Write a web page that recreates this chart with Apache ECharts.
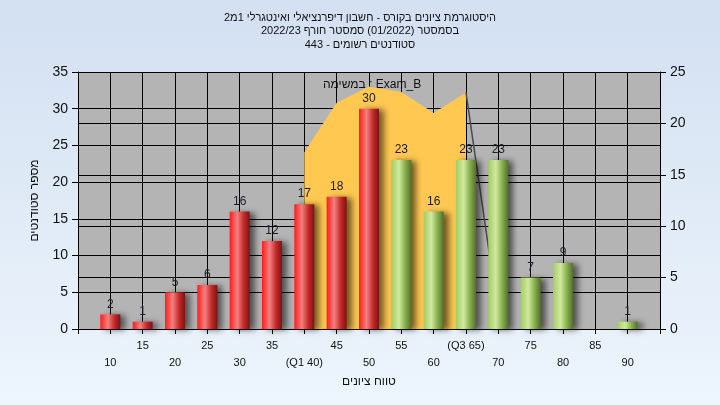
<!DOCTYPE html>
<html><head><meta charset="utf-8">
<script src="https://cdn.jsdelivr.net/npm/echarts@6/dist/echarts.min.js"></script>
<style>html,body{margin:0;padding:0;}#c{width:720px;height:405px;}</style>
</head><body><div id="c"></div>
<script>
const titleLines = [
  'היסטוגרמת ציונים בקורס - חשבון דיפרנציאלי ואינטגרלי 1מ2',
  'בסמסטר (01/2022) סמסטר חורף 2022/23',
  'סטודנטים רשומים - 443'
];
const grades = [10, 15, 20, 25, 30, 35, 40, 45, 50, 55, 60, 65, 70, 75, 80, 85, 90];
const tickLabels = ['10', '15', '20', '25', '30', '35', '(Q1 40)', '45', '50', '55', '60', '(Q3 65)', '70', '75', '80', '85', '90'];
const counts = [2, 1, 5, 6, 16, 12, 17, 18, 30, 23, 16, 23, 23, 7, 9, 0, 1];
const passGrade = 55;
const curveX = [40, 45, 50, 55, 60, 65];
const curveY = [17.2, 22.0, 23.6, 23.05, 21.0, 23.0];
const tailX = [65, 70];
const tailY = [23.0, 1.3];
const annotation = 'במשימה : Exam_B';
const yName = 'מספר סטודנטים';
const xName = 'טווח ציונים';

const FONT = "'Liberation Sans', Arial, sans-serif";
const TXT = '#111';

const redGrad = {type: 'linear', x: 0, y: 0, x2: 1, y2: 0, colorStops: [
  {offset: 0, color: '#ff1c1c'}, {offset: 0.38, color: '#f28080'}, {offset: 0.7, color: '#c52a2a'}, {offset: 1, color: '#7c1212'}]};
const greenGrad = {type: 'linear', x: 0, y: 0, x2: 1, y2: 0, colorStops: [
  {offset: 0, color: '#a4cc62'}, {offset: 0.38, color: '#cfeaa0'}, {offset: 0.7, color: '#88ad4c'}, {offset: 1, color: '#52702c'}]};

const barData = grades.map((g, i) => ({
  value: [g, counts[i]],
  itemStyle: {color: g >= passGrade ? greenGrad : redGrad}
}));
const labelMap = {};
grades.forEach((g, i) => labelMap[g] = tickLabels[i]);

const chart = echarts.init(document.getElementById('c'));
chart.setOption({
  animation: false,
  backgroundColor: {type: 'linear', x: 0, y: 0, x2: 0, y2: 1, colorStops: [
    {offset: 0, color: '#d3e0f1'}, {offset: 1, color: '#edf5fd'}]},
  textStyle: {fontFamily: FONT},
  title: {
    text: titleLines.join('\n'),
    left: 'center', top: 6,
    textStyle: {fontSize: 11, fontWeight: 'normal', color: TXT, lineHeight: 13.5, fontFamily: FONT}
  },
  graphic: [{
    type: 'text', left: 323, top: 79,
    style: {text: annotation, fontSize: 12, fill: TXT, fontFamily: FONT}
  }],
  grid: {left: 78, right: 60, top: 72, bottom: 76, show: true, backgroundColor: '#b4b4b4', borderWidth: 0},
  xAxis: {
    type: 'value', min: 5, max: 95, interval: 5,
    name: xName, nameLocation: 'middle', nameGap: 45,
    nameTextStyle: {fontSize: 12, color: TXT, fontFamily: FONT},
    axisLine: {show: true, lineStyle: {color: '#000', width: 1}},
    axisTick: {show: true, length: 5, lineStyle: {color: '#000'}},
    splitLine: {show: true, lineStyle: {color: '#000', width: 1}},
    axisLabel: {
      fontSize: 11, color: TXT, margin: 8, lineHeight: 17, fontFamily: FONT,
      formatter: v => {
        const t = labelMap[v];
        if (t === undefined) return '';
        return (v % 10 === 0) ? '\n' + t : t;
      }
    }
  },
  yAxis: [{
    type: 'value', min: 0, max: 35, interval: 5, position: 'left',
    name: yName, nameLocation: 'middle', nameGap: 37, nameRotate: 90,
    nameTextStyle: {fontSize: 12, color: TXT, fontFamily: FONT},
    axisLine: {show: true, lineStyle: {color: '#000'}},
    axisTick: {show: true, length: 6, lineStyle: {color: '#000'}},
    splitLine: {show: true, lineStyle: {color: '#000', width: 1}},
    axisLabel: {fontSize: 14, color: TXT, margin: 10, fontFamily: FONT}
  }, {
    type: 'value', min: 0, max: 25, interval: 5, position: 'right',
    axisLine: {show: true, lineStyle: {color: '#000'}},
    axisTick: {show: true, length: 6, lineStyle: {color: '#000'}},
    splitLine: {show: true, lineStyle: {color: '#000', width: 1}},
    axisLabel: {fontSize: 14, color: TXT, margin: 10, fontFamily: FONT}
  }],
  series: [{
    type: 'line', yAxisIndex: 1, z: 1,
    data: curveX.map((x, i) => [x, curveY[i]]),
    showSymbol: false, lineStyle: {width: 0},
    areaStyle: {color: '#fec851', opacity: 1}
  }, {
    type: 'line', yAxisIndex: 1, z: 1,
    data: tailX.map((x, i) => [x, tailY[i]]),
    showSymbol: false, lineStyle: {width: 1.5, color: '#4a4a4a'}
  }, {
    type: 'bar', yAxisIndex: 0, z: 3, barWidth: 20,
    data: barData,
    itemStyle: {shadowColor: 'rgba(0,0,0,0.55)', shadowBlur: 6, shadowOffsetX: 5, shadowOffsetY: 1},
    label: {
      show: true, position: 'top', distance: 4, fontSize: 12, color: '#1c1c2c', fontFamily: FONT,
      formatter: p => p.value[1] === 0 ? '' : String(p.value[1])
    }
  }]
});
</script></body></html>
